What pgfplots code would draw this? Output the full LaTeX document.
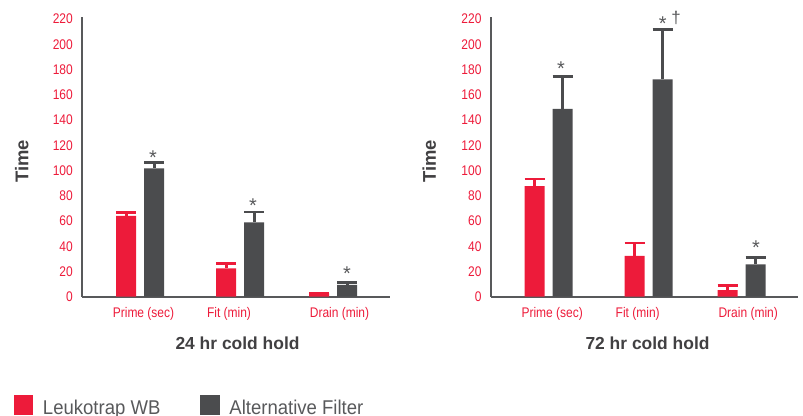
\documentclass[border=0pt]{standalone}
\usepackage{fontspec}
\setmainfont{Liberation Sans}
\newfontfamily\condfont[FakeStretch=0.86]{Liberation Sans}
\newfontfamily\legfont[FakeStretch=0.93]{Liberation Sans}
\usepackage{pgfplots}
\pgfplotsset{compat=1.18}

\definecolor{lred}{RGB}{237,27,58}
\definecolor{dgray}{RGB}{75,76,78}
\definecolor{axgray}{RGB}{88,89,91}
\definecolor{ttl}{RGB}{65,64,66}

\pgfplotsset{
  panel/.style={
    scale only axis, height=279.7bp,
    xmin=0, ymin=0, ymax=221.7,
    axis lines*=left,
    axis line style={line width=1.8bp, axgray},
    major tick length=0pt,
    ytick={0,20,...,220},
    xtick={61.5,147,257.5},
    xticklabels={Prime (sec),Fit (min),Drain (min)},
    ticklabel style={font=\fontsize{14}{16}\condfont, text=lred, inner sep=0pt},
    yticklabel style={anchor=east, xshift=-9bp},
    xticklabel style={anchor=north, yshift=-10.3bp},
    /pgf/number format/assume math mode=true,
    clip=false,
  },
  barplot/.style={
    ybar, bar width=20bp, bar shift=0pt, draw=none, fill=#1,
    error bars/.cd, y dir=plus, y explicit, error mark=|,
    error bar style={line width=3bp, color=#1},
    error mark options={mark size=10bp, line width=2.5bp, color=#1},
  },
}
\tikzset{
  star/.style={anchor=base, font=\fontsize{20}{22}\selectfont, text=axgray, inner sep=0pt},
  ttlnode/.style={anchor=base, font=\fontsize{17.5}{20}\selectfont\bfseries, text=ttl, inner sep=0pt},
  timenode/.style={rotate=90, font=\fontsize{18.5}{20}\selectfont\bfseries, text=ttl, inner sep=0pt},
}

\begin{document}
\begin{tikzpicture}
\useasboundingbox (0bp,0bp) rectangle (803bp,416bp);

% 24 hr cold hold
\begin{axis}[panel, at={(82bp,119.3bp)}, anchor=south west, width=308bp, xmax=308,
  legend style={draw=none, fill=none, inner sep=0pt, outer sep=0pt,
    at={(-0.2208,-0.3903)}, anchor=west,
    nodes={inner sep=0pt, font=\fontsize{20}{24}\legfont, text=axgray},
    column sep=9.7bp,
    /tikz/every even column/.append style={column sep=40bp}},
  legend columns=2,
  legend image code/.code={\fill[#1] (0bp,-6.2bp) rectangle (19.3bp,13.1bp);},
]
\addplot[barplot=lred] coordinates {(44,64.0) +- (0,2.6) (144,22.5) +- (0,4.0) (237,2.7) +- (0,0)};
\addplot[barplot=dgray] coordinates {(72,101.8) +- (0,4.6) (172,59.0) +- (0,8.0) (265,9.3) +- (0,1.8)};
\legend{Leukotrap WB, Alternative Filter}
\node[star] at (axis cs:71,104.8) {*};
\node[star] at (axis cs:171,66.5) {*};
\node[star] at (axis cs:265,12.6) {*};
\node[ttlnode] at (axis cs:155.5,-42.2) {24 hr cold hold};
\node[timenode] at (axis cs:-60.3,107.2) {Time};
\end{axis}

% 72 hr cold hold
\begin{axis}[panel, at={(490.7bp,119.3bp)}, anchor=south west, width=307bp, xmax=307]
\addplot[barplot=lred] coordinates {(44,87.7) +- (0,5.4) (144,32.3) +- (0,10.3) (237,5.3) +- (0,3.7)};
\addplot[barplot=dgray] coordinates {(72,148.8) +- (0,25.9) (172,172.3) +- (0,39.3) (265,25.7) +- (0,5.5)};
\node[star] at (axis cs:70.3,175.6) {*};
\node[star] at (axis cs:172,211.3) {*};
\node[anchor=base, font=\fontsize{17}{18}\selectfont, text=axgray, inner sep=0pt] at (axis cs:185.3,216.3) {†};
\node[star] at (axis cs:265.3,33.4) {*};
\node[ttlnode] at (axis cs:156.8,-42.2) {72 hr cold hold};
\node[timenode] at (axis cs:-61.5,107.2) {Time};
\end{axis}
\end{tikzpicture}
\end{document}
